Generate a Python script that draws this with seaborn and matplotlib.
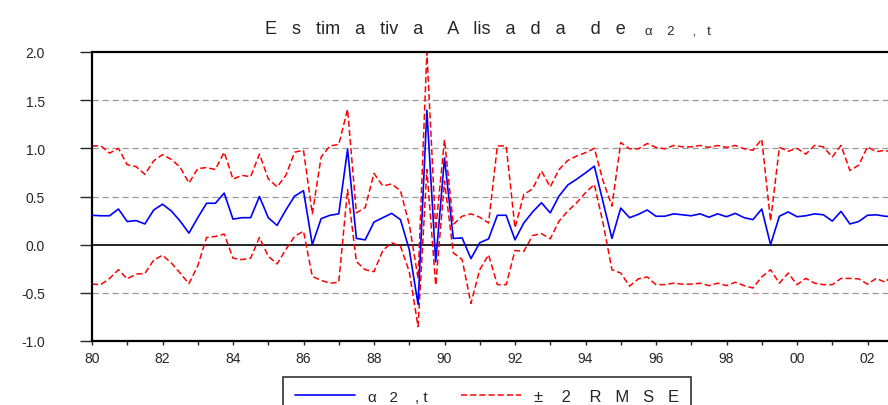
import numpy as np
import pandas as pd
import seaborn as sns
import matplotlib.pyplot as plt

# quarterly series, 1980Q1 .. 2002Q4
start_year = 1980
alpha = [0.305, 0.30, 0.30, 0.37, 0.24, 0.25, 0.215, 0.36, 0.42, 0.35,
         0.245, 0.12, 0.28, 0.43, 0.43, 0.535, 0.265, 0.28, 0.28, 0.50,
         0.28, 0.20, 0.36, 0.505, 0.56, 0.0, 0.27, 0.305, 0.32, 0.99,
         0.065, 0.05, 0.235, 0.28, 0.325, 0.26, -0.05, -0.62, 1.395, -0.18,
         0.90, 0.065, 0.07, -0.145, 0.02, 0.06, 0.305, 0.305, 0.05, 0.225,
         0.34, 0.435, 0.33, 0.505, 0.62, 0.68, 0.745, 0.815, 0.44, 0.065,
         0.38, 0.28, 0.315, 0.36, 0.295, 0.295, 0.32, 0.31, 0.30, 0.32,
         0.285, 0.32, 0.29, 0.325, 0.28, 0.26, 0.37, 0.0, 0.295, 0.34,
         0.29, 0.30, 0.32, 0.31, 0.245, 0.345, 0.215, 0.24, 0.305, 0.31,
         0.295, 0.29]
upper = [1.025, 1.025, 0.95, 1.0, 0.83, 0.81, 0.73, 0.87, 0.935, 0.885,
         0.805, 0.64, 0.79, 0.80, 0.78, 0.96, 0.68, 0.72, 0.705, 0.94,
         0.685, 0.60, 0.72, 0.96, 0.98, 0.32, 0.91, 1.025, 1.04, 1.405,
         0.33, 0.385, 0.74, 0.61, 0.63, 0.56, 0.21, -0.35, 2.0, 0.155,
         1.09, 0.21, 0.295, 0.32, 0.285, 0.225, 1.025, 1.025, 0.175, 0.52,
         0.58, 0.765, 0.60, 0.78, 0.875, 0.92, 0.955, 1.0, 0.66, 0.40,
         1.06, 0.995, 0.995, 1.05, 1.01, 0.995, 1.03, 1.015, 1.015, 1.03,
         1.01, 1.03, 1.01, 1.03, 0.995, 0.98, 1.095, 0.245, 1.01, 0.97,
         1.0, 0.94, 1.03, 1.015, 0.91, 1.03, 0.77, 0.825, 1.015, 0.965,
         0.98, 0.95]
lower = [-0.41, -0.415, -0.35, -0.26, -0.355, -0.305, -0.30, -0.16, -0.11, -0.19,
         -0.295, -0.405, -0.22, 0.075, 0.085, 0.11, -0.14, -0.155, -0.14, 0.075,
         -0.12, -0.20, -0.05, 0.087, 0.14, -0.33, -0.37, -0.40, -0.39, 0.57,
         -0.175, -0.26, -0.28, -0.06, 0.02, -0.015, -0.28, -0.85, 0.78, -0.42,
         0.66, -0.085, -0.155, -0.61, -0.26, -0.105, -0.415, -0.415, -0.06, -0.07,
         0.095, 0.115, 0.06, 0.245, 0.35, 0.435, 0.54, 0.625, 0.22, -0.26,
         -0.295, -0.43, -0.355, -0.335, -0.415, -0.415, -0.40, -0.41, -0.41, -0.40,
         -0.425, -0.40, -0.425, -0.39, -0.425, -0.45, -0.335, -0.26, -0.40, -0.295,
         -0.415, -0.35, -0.40, -0.415, -0.415, -0.35, -0.35, -0.355, -0.41, -0.35,
         -0.39, -0.30]

tick_years = list(range(1980, 2004))
tick_labels = [f"{y % 100:02d}" if y % 2 == 0 else "" for y in tick_years]
y_ticks = [-1.0, -0.5, 0.0, 0.5, 1.0, 1.5, 2.0]
grid_levels = [-0.5, 0.5, 1.0, 1.5]

df = pd.DataFrame({
    't': start_year + np.arange(len(alpha)) * 0.25,
    'alpha': alpha,
    'upper': upper,
    'lower': lower,
})

sns.set_style('white')
plt.rcParams['font.family'] = ['Liberation Sans', 'DejaVu Sans']

fig = plt.figure(figsize=(8.88, 4.06), dpi=100)
ax = fig.add_axes([92 / 888, 64 / 406, 810.75 / 888, 289 / 406])

for g in grid_levels:
    ax.axhline(g, color='#9a9a9a', lw=0.9, linestyle=(0, (5, 3)), zorder=1)
ax.axhline(0, color='black', lw=1.2, zorder=1)

sns.lineplot(data=df, x='t', y='alpha', color='blue', lw=1.2, ax=ax,
             label='α   2    , t', zorder=3)
sns.lineplot(data=df, x='t', y='upper', color='red', lw=1.1, ax=ax,
             linestyle=(0, (4, 2)), label='±    2    R   M   S   E', zorder=2)
sns.lineplot(data=df, x='t', y='lower', color='red', lw=1.1, ax=ax,
             linestyle=(0, (4, 2)), legend=False, zorder=2)

ax.set_xlim(1980, 2003)
ax.set_ylim(-1.0, 2.0)
ax.set_xticks(tick_years)
ax.set_xticklabels(tick_labels)
ax.set_yticks(y_ticks)
ax.set_yticklabels([f"{v:.1f}" for v in y_ticks])
ax.set_xlabel('')
ax.set_ylabel('')
ax.tick_params(axis='x', direction='out', length=3, width=1, pad=4,
               labelsize=10, bottom=True)
ax.tick_params(axis='y', direction='out', length=9, width=1, pad=25,
               labelsize=10, left=True)
for s in ax.spines.values():
    s.set_color('black')
    s.set_linewidth(1.6)

fig.text(265 / 888, 1 - 30 / 406,
         'E   s   tim   a   tiv   a     A   lis   a   d   a     d   e',
         ha='left', va='center', fontsize=13)
fig.text(645 / 888, 1 - 32 / 406, 'α    2     ,   t', ha='left', va='center',
         fontsize=9.5)

handles, labels = ax.get_legend_handles_labels()
leg = ax.legend(handles, labels, loc='upper center',
                bbox_to_anchor=(487 / 888, 28 / 406),
                bbox_transform=fig.transFigure, ncol=2, frameon=True,
                fancybox=False, edgecolor='black', fontsize=12,
                handlelength=3.6, handletextpad=0.8, columnspacing=2.0,
                borderpad=0.7, borderaxespad=0)
leg.get_frame().set_linewidth(1.2)
leg.get_texts()[0].set_fontsize(11)

fig.savefig('out.png', dpi=100)
